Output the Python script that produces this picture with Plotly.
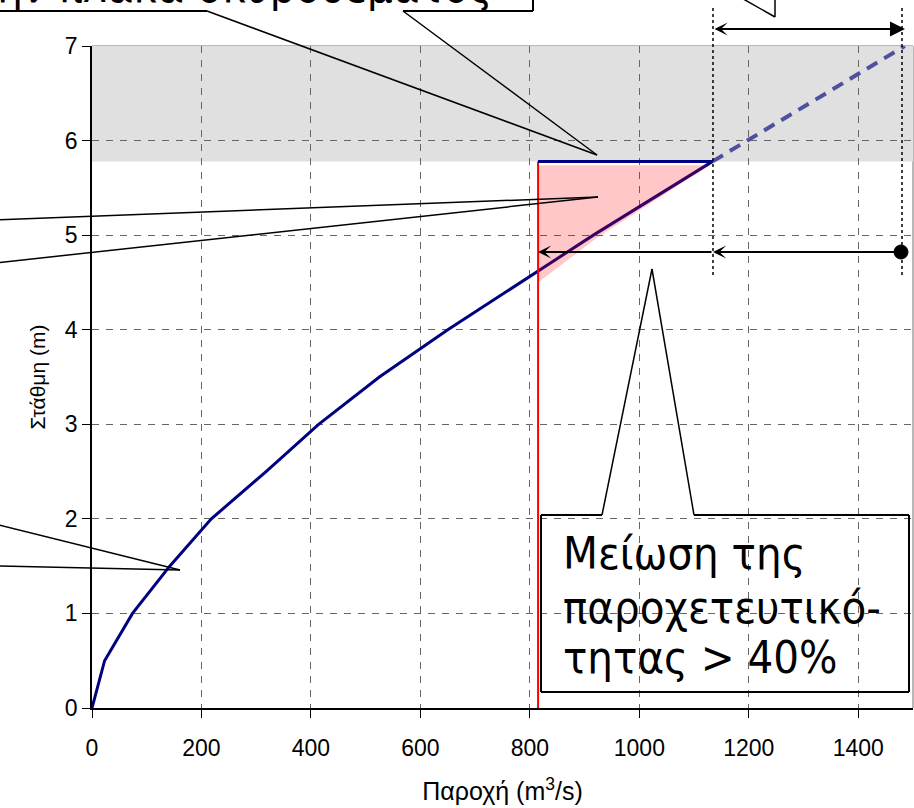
import plotly.graph_objects as go

# ---------------- data ----------------
Q_curve = [0, 23, 74, 142, 218, 318, 414, 525, 650, 783, 916, 1134]
H_curve = [0, 0.5, 1.0, 1.5, 2.0, 2.5, 3.0, 3.5, 4.0, 4.5, 5.0, 5.78]
Q_ext = [1134, 1485]
H_ext = [5.78, 7.0]
Q_cap = [815, 815]
H_cap = [0, 5.78]
Q_slab = [815, 1134]
H_slab = [5.78, 5.78]
Q_pink = [815, 815, 1128, 922, 815]
H_pink = [4.50, 5.74, 5.74, 4.97, 4.50]
band_H = [5.78, 7.0]
x_ticks = [0, 200, 400, 600, 800, 1000, 1200, 1400]
y_ticks = [0, 1, 2, 3, 4, 5, 6, 7]
x_range = [0, 1500]
y_range = [0, 7]

# ---------------- layout geometry ----------------
W, H = 914, 808
L, R, T, B = 92, 1, 46, 100
PW, PH = W - L - R, H - T - B


def P(xpx, ypx):
    """pixel position in the page -> paper coordinates"""
    return (xpx - L) / PW, (T + PH - ypx) / PH


def seg(x0, y0, x1, y1, color="black", width=1.5, dash="solid"):
    a, b = P(x0, y0)
    c, d = P(x1, y1)
    return dict(type="line", xref="paper", yref="paper", x0=a, y0=b, x1=c, y1=d,
                line=dict(color=color, width=width, dash=dash), layer="above")


def arrow(hx, hy, tx, ty, head=3, size=1.1, side="end", start_head=3, start_size=1.1):
    a, b = P(hx, hy)
    return dict(xref="paper", yref="paper", x=a, y=b, ax=tx - hx, ay=ty - hy,
                axref="pixel", ayref="pixel", text="", showarrow=True,
                arrowhead=head, arrowsize=size, arrowwidth=2, arrowcolor="black",
                arrowside=side, startarrowhead=start_head, startarrowsize=start_size,
                standoff=0, startstandoff=0)


fig = go.Figure()

fig.add_trace(go.Scatter(x=Q_curve, y=H_curve, mode="lines",
                         line=dict(color="#000080", width=3), showlegend=False))
fig.add_trace(go.Scatter(x=Q_ext, y=H_ext, mode="lines",
                         line=dict(color="#5050a0", width=4, dash="12px,8px"),
                         showlegend=False))
fig.add_trace(go.Scatter(x=Q_pink, y=H_pink, mode="lines", fill="toself",
                         fillcolor="rgba(255,0,0,0.22)", line=dict(width=0),
                         showlegend=False))
fig.add_trace(go.Scatter(x=Q_cap, y=H_cap, mode="lines",
                         line=dict(color="#ff0000", width=2), showlegend=False))
fig.add_trace(go.Scatter(x=Q_slab, y=H_slab, mode="lines",
                         line=dict(color="#000080", width=3), showlegend=False))

shapes = [
    dict(type="rect", xref="x", yref="y", x0=x_range[0], x1=x_range[1],
         y0=band_H[0], y1=band_H[1], fillcolor="#e0e0e0", line=dict(width=0),
         layer="below"),
    # top / right frame
    dict(type="line", xref="paper", yref="paper", x0=0, x1=1, y0=1, y1=1,
         line=dict(color="#a0a0a0", width=1.5), layer="below"),
    dict(type="line", xref="paper", yref="paper", x0=1, x1=1, y0=0, y1=1,
         line=dict(color="#a0a0a0", width=1.5), layer="below"),
]

# top callout box (mostly outside the window)
shapes += [
    seg(-20, 11, 207, 11, width=2), seg(403, 11, 533, 11, width=2),
    seg(533, -20, 533, 11, width=2),
    seg(207, 11, 597, 155), seg(403, 11, 597, 155),
]
# left callouts (boxes off to the left)
shapes += [
    seg(-5, 220, 598, 197), seg(-5, 263, 598, 197),
    seg(-5, 524, 180, 570), seg(-5, 566, 180, 570),
]
# top-right callout pointer
shapes += [seg(738, -4, 775, 17), seg(775, -4, 775, 17)]
# dotted verticals
shapes += [seg(713, 8, 713, 277, dash="dot"), seg(902, 8, 902, 277, dash="dot")]
# bottom-right callout box
shapes += [
    seg(541, 515, 602, 515, width=2), seg(694, 515, 909, 515, width=2),
    seg(909, 515, 909, 692, width=2), seg(541, 692, 909, 692, width=2),
    seg(541, 515, 541, 692, width=2),
    seg(602, 515, 652, 269), seg(694, 515, 652, 269),
]
# black dot
a0, b0 = P(894, 259)
a1, b1 = P(908, 245)
shapes.append(dict(type="circle", xref="paper", yref="paper", x0=a0, y0=b0, x1=a1,
                   y1=b1, fillcolor="black", line=dict(color="black", width=1),
                   layer="above"))

annotations = [
    arrow(905, 29, 713, 29, head=2, size=1.5, side="end+start", start_head=3,
          start_size=1.1),
    arrow(713, 252, 901, 252, head=3, size=1.1),
    arrow(538, 252, 713, 252, head=3, size=1.1),
]

TXT_FONT = dict(family="DejaVu Sans Condensed, DejaVu Sans", size=45, color="black")
for line, ypx in [("Μείωση της", 553), ("παροχετευτικό-", 607), ("τητας > 40%", 657)]:
    a, b = P(561, ypx)
    annotations.append(dict(xref="paper", yref="paper", x=a, y=b, text=line,
                            showarrow=False, xanchor="left", yanchor="middle",
                            font=TXT_FONT))
a, b = P(494, -13)
annotations.append(dict(xref="paper", yref="paper", x=a, y=b,
                        text="την πλάκα σκυροδέματος", showarrow=False,
                        xanchor="right", yanchor="middle", font=TXT_FONT))

AX_FONT = dict(family="Liberation Sans, Arial", size=23, color="black")
fig.update_layout(
    width=W, height=H, margin=dict(l=L, r=R, t=T, b=B, autoexpand=False),
    paper_bgcolor="white", plot_bgcolor="white",
    showlegend=False, shapes=shapes, annotations=annotations,
    xaxis=dict(range=x_range, tickvals=x_ticks, ticktext=[str(v) for v in x_ticks],
               showgrid=True, gridcolor="#666666", griddash="7px,7px", gridwidth=1,
               showline=True, linecolor="black", linewidth=2, zeroline=False,
               ticks="outside", ticklen=8, tickcolor="black", tickwidth=1,
               tickfont=AX_FONT, ticklabelstandoff=10,
               title=dict(text="Παροχή (m<sup>3</sup>/s)",
                          font=dict(family="Liberation Sans, Arial", size=25,
                                    color="black"), standoff=23)),
    yaxis=dict(range=y_range, tickvals=y_ticks, ticktext=[str(v) for v in y_ticks],
               showgrid=True, gridcolor="#666666", griddash="7px,7px", gridwidth=1,
               showline=True, linecolor="black", linewidth=1.5, zeroline=False,
               ticks="outside", ticklen=8, tickcolor="black", tickwidth=1,
               tickfont=AX_FONT, ticklabelstandoff=0,
               title=dict(text="Στάθμη (m)",
                          font=dict(family="Liberation Sans, Arial", size=21,
                                    color="black"), standoff=14)),
)

fig.write_html("out.html", config={"displayModeBar": False},
               post_script="document.body.style.margin='0px';"
                           "document.body.style.overflow='hidden';")
